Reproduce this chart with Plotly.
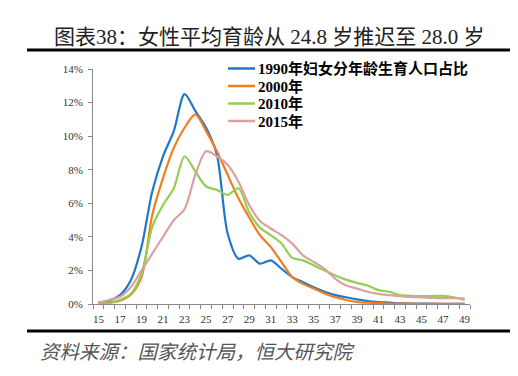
import plotly.graph_objects as go

ages = list(range(15, 50))
tick_labels = [str(a) for a in range(15, 50, 2)]
y_ticks = [0, 2, 4, 6, 8, 10, 12, 14]
y_tick_labels = [f"{v}%" for v in y_ticks]

names = ["1990年妇女分年龄生育人口占比", "2000年", "2010年", "2015年"]

y1990 = [0.08, 0.2, 0.53, 1.4, 3.4, 6.7, 8.8, 10.3, 12.5, 11.5, 10.5, 8.9, 4.2, 2.7, 2.9,
         2.4, 2.6, 2.1, 1.6, 1.3, 1.0, 0.73, 0.53, 0.4, 0.28, 0.18, 0.12, 0.08, 0.04, 0.03,
         0.02, 0.02, 0.01, 0.01, 0.01]
y2000 = [0.04, 0.08, 0.2, 0.55, 1.6, 5.3, 7.5, 9.3, 10.5, 11.3, 10.3, 9.1, 7.7, 6.3, 5.15,
         4.1, 3.4, 2.5, 1.6, 1.2, 0.92, 0.63, 0.4, 0.24, 0.12, 0.08, 0.05, 0.03, 0.02, 0.02,
         0.01, 0.01, 0.01, 0.01, 0.01]
y2010 = [0.0, 0.05, 0.25, 0.6, 1.8, 4.6, 5.9, 6.9, 8.8, 7.9, 7.0, 6.8, 6.5, 6.9, 5.45,
         4.55, 4.1, 3.6, 2.75, 2.6, 2.3, 2.0, 1.7, 1.45, 1.26, 1.1, 0.83, 0.73, 0.53, 0.49,
         0.47, 0.47, 0.49, 0.4, 0.24]
y2015 = [0.08, 0.24, 0.43, 1.0, 2.0, 3.0, 4.0, 5.0, 5.65, 7.7, 9.1, 8.8, 8.3, 7.3, 5.9,
         4.95, 4.5, 4.1, 3.6, 2.9, 2.5, 2.1, 1.5, 1.1, 0.92, 0.73, 0.6, 0.53, 0.47, 0.41,
         0.4, 0.37, 0.35, 0.35, 0.33]

series = [y1990, y2000, y2010, y2015]
colors = ["#1F78C8", "#F07D1E", "#92D050", "#DBA0A0"]

serif = "Liberation Serif, Noto Sans CJK SC, serif"

# page body has an 8px margin; plot area in page pixels: x 93..470, y 69..304
PL, PR, PT, PB = 93, 470, 69, 304


def xp(px):
    return (px - PL) / (PR - PL)


def yp(py):
    return (PB - py) / (PB - PT)


fig = go.Figure()
for name, ys, c in zip(names, series, colors):
    fig.add_trace(go.Scatter(
        x=ages, y=ys, name=name, mode="lines",
        line=dict(color=c, width=2.2, shape="spline", smoothing=0.8),
        showlegend=False,
    ))

shapes = [
    dict(type="line", xref="paper", yref="paper",
         x0=xp(27), x1=xp(510), y0=yp(50), y1=yp(50),
         line=dict(color="black", width=3)),
    dict(type="line", xref="paper", yref="paper",
         x0=xp(27), x1=xp(510), y0=yp(331), y1=yp(331),
         line=dict(color="black", width=3)),
]
annotations = [
    dict(text="图表38：女性平均育龄从 24.8 岁推迟至 28.0 岁",
         xref="paper", yref="paper", x=xp(269), y=yp(37),
         xanchor="center", yanchor="middle", showarrow=False,
         font=dict(family=serif, size=21, color="#222")),
    dict(text="<i>资料来源：国家统计局，恒大研究院</i>",
         xref="paper", yref="paper", x=xp(38), y=yp(350),
         xanchor="left", yanchor="middle", showarrow=False,
         font=dict(family="Noto Sans CJK SC, sans-serif", size=19.5, color="#555")),
]

legend_rows = [68.5, 86, 103.5, 121]
for name, c, ry in zip(names, colors, legend_rows):
    shapes.append(dict(type="line", xref="paper", yref="paper",
                       x0=xp(228), x1=xp(255), y0=yp(ry), y1=yp(ry),
                       line=dict(color=c, width=2.5)))
    annotations.append(dict(text=name, xref="paper", yref="paper",
                            x=xp(256), y=yp(ry), xanchor="left", yanchor="middle",
                            showarrow=False,
                            font=dict(family=serif, size=15, color="black", weight="bold")))

fig.update_layout(
    width=510, height=368,
    margin=dict(l=PL - 8, r=(510 + 8) - PR, t=PT - 8, b=(368 + 8) - PB),
    paper_bgcolor="white", plot_bgcolor="white",
    showlegend=False,
    xaxis=dict(
        range=[14.5, 49.5], showgrid=False, zeroline=False,
        showline=True, linecolor="#888", linewidth=1,
        tickmode="array", tickvals=list(range(15, 50, 2)), ticktext=tick_labels,
        ticks="", ticklabelstandoff=5,
        tickfont=dict(family=serif, size=11, color="#333"),
        minor=dict(tickmode="linear", tick0=14.5, dtick=1, ticks="outside",
                   ticklen=4, tickcolor="#888", showgrid=False),
    ),
    yaxis=dict(
        range=[0, 14], showgrid=False, zeroline=False,
        showline=True, linecolor="#888", linewidth=1,
        tickmode="array", tickvals=y_ticks, ticktext=y_tick_labels,
        ticks="outside", ticklen=4, tickcolor="#888", ticklabelstandoff=3,
        tickfont=dict(family=serif, size=11, color="#333"),
    ),
    shapes=shapes,
    annotations=annotations,
)

fig.write_html("out.html")
